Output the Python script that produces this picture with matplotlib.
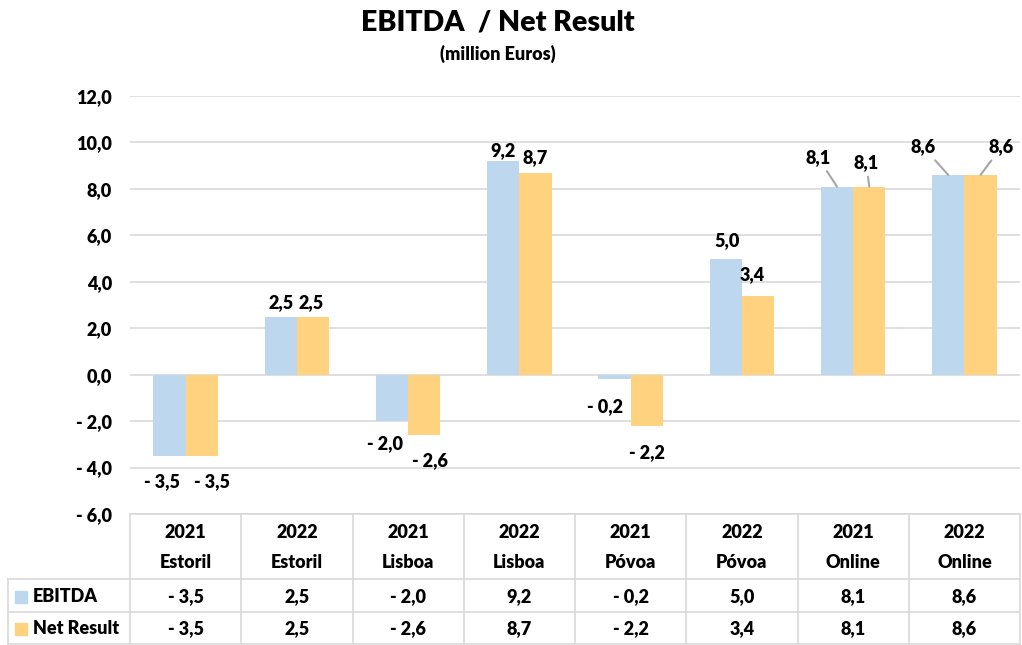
import matplotlib
matplotlib.use("Agg")
import matplotlib.pyplot as plt
import numpy as np

plt.rcParams['font.family'] = ['Lato', 'DejaVu Sans']
plt.rcParams['font.weight'] = 'heavy'

years = ['2021', '2022', '2021', '2022', '2021', '2022', '2021', '2022']
places = ['Estoril', 'Estoril', 'Lisboa', 'Lisboa', 'Póvoa', 'Póvoa', 'Online', 'Online']
ebitda = [-3.5, 2.5, -2.0, 9.2, -0.2, 5.0, 8.1, 8.6]
net_result = [-3.5, 2.5, -2.6, 8.7, -2.2, 3.4, 8.1, 8.6]
series_names = ['EBITDA', 'Net Result']
colors = ['#BDD7EE', '#FFD27F']

# label offsets in pixels (dx, dy) from the bar end; leader line for the Online pairs
lab_off_e = [(-7, -26), (0, 14), (-7, -22), (0, 10), (-9, -27), (1, 18), (-19, 29), (-25, 28)]
lab_off_n = [(10, -26), (-2, 14), (6, -26), (0, 15), (0, -27), (-6, 21), (-3, 24), (21, 28)]
leader = [False, False, False, False, False, False, True, True]


def fmt(v):
    s = f"{abs(v):.1f}".replace('.', ',')
    return ('- ' + s) if v < 0 else s


W, H = 1022, 645
fig = plt.figure(figsize=(W / 100, H / 100), dpi=100)
ax = fig.add_axes([130 / W, 1 - 514 / H, 890 / W, 418 / H])

x = np.arange(len(years))
bw = 0.29
ax.bar(x - bw / 2, ebitda, bw, color=colors[0], zorder=2)
ax.bar(x + bw / 2, net_result, bw, color=colors[1], zorder=2)

ax.set_xlim(-0.5, len(years) - 0.5)
ax.set_ylim(-6, 12)
ticks = np.arange(-6, 12.1, 2)
ax.set_yticks(ticks)
ax.set_yticklabels([fmt(t) for t in ticks], fontsize=13)
ax.tick_params(axis='y', length=0, pad=13)
ax.set_xticks([])
ax.grid(axis='y', color='#D9D9D9', linewidth=1.2, zorder=0)
for s in ax.spines.values():
    s.set_visible(False)

for vals, offs, xs in [(ebitda, lab_off_e, x - bw / 2), (net_result, lab_off_n, x + bw / 2)]:
    for i, v in enumerate(vals):
        dx, dy = offs[i]
        ap = None
        if leader[i]:
            ap = dict(arrowstyle='-', color='#A6A6A6', lw=1.5, shrinkA=2, shrinkB=0)
        ax.annotate(fmt(v), (xs[i], v), xytext=(dx * 0.72, dy * 0.72),
                    textcoords='offset points', ha='center', va='center',
                    fontsize=13, arrowprops=ap)

fig.text(498 / W, 1 - 22 / H, 'EBITDA  / Net Result', ha='center', va='center',
         fontsize=20.5)
fig.text(498 / W, 1 - 54 / H, '(million Euros)', ha='center', va='center',
         fontsize=13)

# data table below the plot
left_px = 8
tx = fig.add_axes([left_px / W, 0, (1020 - left_px) / W, 131 / H])
x0 = -0.5 - (130 - left_px) / (890 / len(years))
tx.set_xlim(x0, len(years) - 0.5)
tx.set_ylim(0, 131)
tx.axis('off')
lc = '#D9D9D9'
tx.plot([-0.5, len(years) - 0.5], [131, 131], color=lc, lw=1.2, clip_on=False)
for yy in [66, 33, 1]:
    tx.plot([x0, len(years) - 0.5], [yy, yy], color=lc, lw=1.2, clip_on=False)
for b in np.arange(-0.5, len(years), 1.0):
    tx.plot([b, b], [1, 131], color=lc, lw=1.2, clip_on=False)
tx.plot([x0, x0], [1, 66], color=lc, lw=1.2, clip_on=False)

for i in range(len(years)):
    tx.text(i, 113, years[i], ha='center', va='center', fontsize=13)
    tx.text(i, 82, places[i], ha='center', va='center', fontsize=13)
    tx.text(i, 48, fmt(ebitda[i]), ha='center', va='center', fontsize=13)
    tx.text(i, 16, fmt(net_result[i]), ha='center', va='center', fontsize=13)

for k, (name, yy) in enumerate(zip(series_names, [48, 16])):
    tx.scatter([x0 + 0.12], [yy], marker='s', s=75, color=colors[k], clip_on=False)
    tx.text(x0 + 0.225, yy, name, ha='left', va='center', fontsize=13)

fig.savefig('out.png', dpi=100)
